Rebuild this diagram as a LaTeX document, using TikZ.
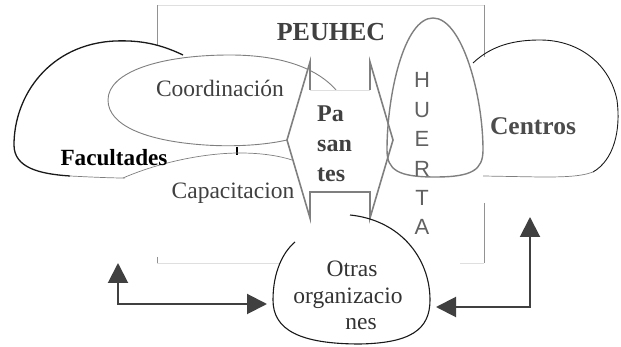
\documentclass[tikz,border=0pt]{standalone}
\usepackage{fontspec}
\setmainfont{Liberation Serif}
\newfontfamily\huertafont{Liberation Sans}
\usetikzlibrary{arrows.meta}
\definecolor{ink}{HTML}{404040}
\definecolor{edge}{HTML}{7F7F7F}

\begin{document}
\begin{tikzpicture}[x=1pt, y=-1pt,
	frameline/.style={edge!85, line width=.9pt},
	faintline/.style={edge!25, line width=.6pt},
	soft/.style={edge, line width=.9pt},
	blob/.style={black!90, line width=1.1pt},
	link/.style={ink, line width=2pt,
		{Triangle[length=20pt,width=20pt]}-{Triangle[length=20pt,width=20pt]}},
	txt/.style={font=\fontsize{23.5}{28}\selectfont, text=ink, inner sep=0pt},
	heavy/.style={font=\fontsize{24}{28}\selectfont\bfseries, text=ink, inner sep=0pt},
	tall/.style={font=\huertafont\fontsize{22}{26}\selectfont, text=black!62, inner sep=0pt}]
\useasboundingbox (0,0) rectangle (621,347);

\draw[faintline] (157,5) -- (484,5);
\draw[frameline] (157,45) -- (157,5);
\draw[frameline] (484,5) -- (484,57);
\draw[frameline] (484,203) -- (484,263);
\draw[frameline] (157,257) -- (157,263);
\draw[faintline] (157,263) -- (280,263);
\draw[faintline] (460,263) -- (484,263);

\draw[blob, line width=1.3pt] (183,55) .. controls (160,44) and (140,40) .. (115,41) .. controls (50,44) and (14,95) ..
				(14,145) .. controls (14,168) and (40,174) .. (70,176);
\draw[soft, line width=.7pt] (70,176) .. controls (90,177) and (110,178) .. (125,178);
\draw[black, line width=1.3pt] (237,147) -- (237,155);

\fill[white, draw=edge, line width=.9pt] (108,100) .. controls (108,72) and (160,55) .. (230,55) ..
				controls (285,55) and (322,70) .. (340,95) .. controls (325,125) and (305,136) .. (287,140) ..
				controls (265,145) and (235,147) .. (205,145) .. controls (145,141) and (108,125) .. (108,100) -- cycle;
\draw[soft, line width=.7pt] (123,178) .. controls (160,162) and (205,153) .. (240,153) ..
				controls (262,153) and (280,156) .. (292,160);

\draw[blob, line width=.9pt] (473,63) .. controls (492,45) and (515,40) .. (540,40) ..
				controls (580,40) and (610,65) .. (617,100) .. controls (621,130) and (614,160) .. (593,172);
\draw[soft, line width=.7pt] (593,172) .. controls (580,177) and (560,177) .. (540,177) -- (483,176);

\fill[white] (287,140) -- (310,62) -- (310,90) -- (370,90) -- (370,62) -- (393,140) --
				(370,218) -- (370,192) -- (310,192) -- (310,218) -- cycle;
\draw[soft, line width=1.6pt] (310,90) -- (310,62) -- (287,140) -- (310,218) -- (310,192) --
				(370,192) -- (370,218) -- (393,140) -- (370,62) -- (370,90);
\draw[faintline] (310,90) -- (370,90);

\draw[soft, line width=1.4pt] (433,18) .. controls (462,18) and (483,95) .. (483,150) ..
				controls (483,170) and (472,177) .. (435,177) .. controls (398,177) and (387,170) .. (387,150) ..
				controls (387,95) and (404,18) .. (433,18) -- cycle;

\draw[blob] (350,215) .. controls (400,220) and (430,258) .. (430,300) .. controls (430,330) and (410,343) ..
				(360,344) .. controls (300,344) and (273,330) .. (273,300) .. controls (273,272) and (283,252) .. (295,242);

\coordinate (facS) at (118,263);
\coordinate (otrasW) at (267,304);
\coordinate (centS) at (530,217);
\coordinate (otrasE) at (436,307);
\draw[link] (facS) |- (otrasW);
\draw[link] (centS) |- (otrasE);

\node[heavy, font=\fontsize{26}{30}\selectfont\bfseries, anchor=base] (peuhec) at (331,41) {PEUHEC};
\node[txt, anchor=base] (coord) at (220,97) {Coordinación};
\node[heavy, font=\fontsize{23.2}{28}\selectfont\bfseries, text=black, anchor=base] (fac) at (114,166) {Facultades};
\node[txt, anchor=base] (capac) at (233,199) {Capacitacion};
\node[heavy, font=\fontsize{25.5}{30}\selectfont\bfseries, text=black!70, anchor=base] (cent) at (533,135) {Centros};
\node[heavy, anchor=base west] (pas1) at (317,122) {Pa};
\node[heavy, anchor=base west] (pas2) at (317,152) {san};
\node[heavy, anchor=base west] (pas3) at (317,182) {tes};
\foreach \ch [count=\i] in {H,U,E,R,T,A}
	\node[tall, anchor=base] (huerta\i) at (422,58.6+29.4*\i) {\ch};
\node[txt, text=black!80, anchor=base] (otras1) at (352,277) {Otras};
\node[txt, text=black!80, anchor=base] (otras2) at (348,304) {organizacio};
\node[txt, text=black!80, anchor=base] (otras3) at (361,330) {nes};
\end{tikzpicture}
\end{document}
